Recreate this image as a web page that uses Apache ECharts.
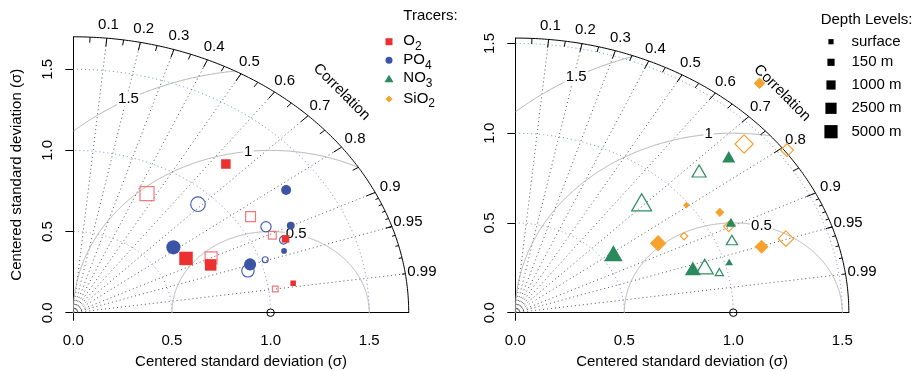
<!DOCTYPE html>
<html><head><meta charset="utf-8">
<script src="https://cdn.jsdelivr.net/npm/echarts@6/dist/echarts.min.js"></script>
<style>html,body{margin:0;padding:0;background:#fff}#c{width:914px;height:371px}</style>
</head><body><div id="c"></div>
<script>
const FONT = '"Liberation Sans", Arial, Helvetica, sans-serif';

// ---------- data ----------
const depthLevels = ['surface', '150 m', '1000 m', '2500 m', '5000 m'];
const tracerNames = ['O2', 'PO4', 'NO3', 'SiO2'];
const corrTicks = [0.1, 0.2, 0.3, 0.4, 0.5, 0.6, 0.7, 0.8, 0.9, 0.95, 0.99];
const sdTicks = [0, 0.5, 1.0, 1.5];
const rmsLevels = [0.5, 1, 1.5];
const refSd = 1;
const maxSdLeft = 1.7;
const maxSdRight = 1.53;

// values per depth: surface, 150 m, 1000 m, 2500 m, 5000 m  (std. dev., correlation)
const sdO2Filled   = [1.129, 1.168, 1.199, 0.756, 0.662];
const corO2Filled  = [0.987, 0.921, 0.645, 0.921, 0.863];
const sdO2Open     = [1.034, 1.116, 1.076, 0.776, 0.823];
const corO2Open    = [0.990, 0.904, 0.835, 0.900, 0.454];
const sdPO4Filled  = [1.134, 1.226, 1.317, 0.944, 0.648];
const corPO4Filled = [0.942, 0.899, 0.819, 0.949, 0.783];
const sdPO4Open    = [1.026, 1.156, 1.111, 0.922, 0.920];
const corPO4Open   = [0.948, 0.922, 0.879, 0.960, 0.687];
const sdNO3Filled  = [1.021, 1.110, 1.309, 0.851, 0.559];
const corNO3Filled = [0.961, 0.891, 0.748, 0.957, 0.805];
const sdNO3Open    = [0.963, 1.073, 1.155, 0.906, 0.845];
const corNO3Open   = [0.972, 0.926, 0.730, 0.959, 0.686];
const sdSiO2Filled  = [0.987, 1.092, 1.700, 1.188, 0.761];
const corSiO2Filled = [0.795, 0.859, 0.659, 0.951, 0.861];
const sdSiO2Open    = [0.884, 1.090, 1.541, 1.308, 1.409];
const corSiO2Open   = [0.876, 0.898, 0.809, 0.949, 0.745];

// ---------- styles ----------
const depthSize = [5.5, 7.5, 9.5, 11.5, 13.5];
const tracerDefs = [
  {name: 'O2',   grid: 0, symbol: 'rect',     color: '#EC2F2F', open: '#F27A7A', fF: 1.0,  fO: 1.04, sdF: sdO2Filled,   corF: corO2Filled,   sdO: sdO2Open,   corO: corO2Open},
  {name: 'PO4',  grid: 0, symbol: 'circle',   color: '#3B54A5', open: '#4660B0', fF: 1.05, fO: 1.08, sdF: sdPO4Filled,  corF: corPO4Filled,  sdO: sdPO4Open,  corO: corPO4Open},
  {name: 'NO3',  grid: 1, symbol: 'triangle', color: '#2A8A5C', open: '#2E8F60', fF: 1.38, fO: 1.48, sdF: sdNO3Filled,  corF: corNO3Filled,  sdO: sdNO3Open,  corO: corNO3Open},
  {name: 'SiO2', grid: 1, symbol: 'diamond',  color: '#F8A22E', open: '#F5A033', fF: 1.22, fO: 1.35, sdF: sdSiO2Filled, corF: corSiO2Filled, sdO: sdSiO2Open, corO: corSiO2Open}
];

const toXY = (sd, c) => [sd * c, sd * Math.sqrt(Math.max(0, 1 - c * c))];
const deg = Math.PI / 180;

function polySeries(gi, lines, style, z) {
  return {
    type: 'custom', coordinateSystem: 'cartesian2d', xAxisIndex: gi, yAxisIndex: gi,
    silent: true, z: z, clip: false,
    data: lines.map(() => [0, 0]),
    renderItem: (params, api) => ({
      type: 'polyline',
      shape: {points: lines[params.dataIndex].map(p => api.coord(p))},
      style: Object.assign({fill: null, lineWidth: 1}, style)
    })
  };
}
function textSeries(gi, items, z) {
  return {
    type: 'custom', coordinateSystem: 'cartesian2d', xAxisIndex: gi, yAxisIndex: gi,
    silent: true, z: z, clip: false,
    data: items.map(() => [0, 0]),
    renderItem: (params, api) => {
      const it = items[params.dataIndex];
      const p = api.coord(it.pos);
      return {
        type: 'text', x: p[0], y: p[1], rotation: it.rot || 0,
        style: Object.assign({text: it.text, fill: '#000', font: '15px ' + FONT, align: 'center', verticalAlign: 'middle'}, it.style || {})
      };
    }
  };
}

function panelSeries(gi, maxSd) {
  const out = [];
  // outer arc
  const outer = [];
  for (let a = 0; a <= 90.001; a += 0.5) outer.push([maxSd * Math.cos(a * deg), maxSd * Math.sin(a * deg)]);
  out.push(polySeries(gi, [outer], {stroke: '#000', lineWidth: 1}, 2));
  // std-dev arcs (blue dotted)
  const sdArcs = sdTicks.filter(r => r > 0 && r < maxSd).map(r => {
    const pts = [];
    for (let a = 0; a <= 90.001; a += 0.5) pts.push([r * Math.cos(a * deg), r * Math.sin(a * deg)]);
    return pts;
  });
  out.push(polySeries(gi, sdArcs, {stroke: '#7D8ED6', lineDash: [1, 3]}, 1));
  // correlation rays
  const rays = corrTicks.map(c => [[0, 0], toXY(maxSd, c)]);
  out.push(polySeries(gi, rays, {stroke: '#555', lineDash: [1, 3]}, 1));
  // rms arcs (grey) around reference
  const rmsArcs = rmsLevels.map(r => {
    const pts = [];
    for (let a = 0; a <= 180.001; a += 0.25) {
      const x = refSd + r * Math.cos(a * deg), y = r * Math.sin(a * deg);
      if (x >= -1e-9 && x * x + y * y <= maxSd * maxSd + 1e-9) pts.push([x, y]);
    }
    return pts;
  });
  out.push(polySeries(gi, rmsArcs, {stroke: '#B3B3B3', lineWidth: 1}, 1));
  // ticks on the outer arc
  const ticks = [];
  for (let i = 1; i <= 9; i++) { const c = i / 10; ticks.push([toXY(maxSd, c), toXY(maxSd * 0.97, c)]); }
  for (let i = 0; i < 10; i++) { const c = 0.05 + i / 10; ticks.push([toXY(maxSd, c), toXY(maxSd * 0.98, c)]); }
  for (let i = 1; i <= 9; i++) { const c = 0.9 + i / 100; ticks.push([toXY(maxSd, c), toXY(maxSd * 0.99, c)]); }
  out.push(polySeries(gi, ticks, {stroke: '#000', lineWidth: 1}, 2));
  // texts
  const texts = corrTicks.map(c => ({pos: toXY(maxSd * 1.05, c), text: String(c)}));
  texts.push({pos: [maxSd * 0.8, maxSd * 0.8], text: 'Correlation', rot: -Math.PI / 4});
  const rmsAngles = [75, 96.5, 118.7];
  rmsLevels.forEach((r, i) => texts.push({
    pos: [refSd + r * Math.cos(rmsAngles[i] * deg), r * Math.sin(rmsAngles[i] * deg)],
    text: String(r), style: {backgroundColor: '#fff', padding: [0, 1]}
  }));
  out.push(textSeries(gi, texts, 3));
  // reference point
  out.push({type: 'scatter', xAxisIndex: gi, yAxisIndex: gi, z: 4, clip: false, silent: true,
    symbol: 'circle', symbolSize: 7.5, data: [[refSd, 0]],
    itemStyle: {color: 'rgba(255,255,255,0)', borderColor: '#000', borderWidth: 1, opacity: 1}});
  return out;
}

function tracerSeries(def) {
  const mk = (sds, cors, filled) => {
    const f = filled ? def.fF : def.fO;
    return {
      type: 'scatter', name: def.name + (filled ? '' : ' (open)'), xAxisIndex: def.grid, yAxisIndex: def.grid,
      z: filled ? 6 : 5, clip: false, symbol: def.symbol, silent: true,
      data: sds.map((s, i) => {
        const w = depthSize[i] * f;
        return {value: toXY(s, cors[i]), symbolSize: def.symbol === 'triangle' ? [w, w * 0.86] : w};
      }),
      itemStyle: filled ? {color: def.color, opacity: 1}
                        : {color: 'rgba(255,255,255,0)', borderColor: def.open, borderWidth: 1.2, opacity: 1}
    };
  };
  return [mk(def.sdO, def.corO, false), mk(def.sdF, def.corF, true)];
}

function axisCfg(gi, maxSd, isY) {
  const cfg = {
    type: 'value', gridIndex: gi, min: 0, max: maxSd,
    axisLine: {show: true, onZero: false, lineStyle: {color: '#000', width: 1}},
    axisTick: {show: true, inside: false, length: 8, lineStyle: {color: '#000'}, customValues: isY ? sdTicks : [0]},
    axisLabel: {show: true, customValues: sdTicks, formatter: v => v.toFixed(1), color: '#000',
      fontSize: 15, fontFamily: FONT, margin: isY ? 18 : 21, rotate: isY ? 90 : 0},
    splitLine: {show: false}
  };
  if (!isY || gi === 0) {
    cfg.name = 'Centered standard deviation (σ)';
    cfg.nameLocation = 'middle';
    cfg.nameGap = isY ? 49 : 42;
    cfg.nameTextStyle = {color: '#000', fontSize: 15, fontFamily: FONT};
  }
  return cfg;
}

// ---------- legends (graphic) ----------
const rich = {
  n: {fontSize: 15, fontFamily: FONT, lineHeight: 17, verticalAlign: 'top', color: '#000'},
  s: {fontSize: 12, fontFamily: FONT, lineHeight: 12, padding: [7, 0, 0, 0], verticalAlign: 'top', color: '#000'}
};
const tracerLabels = ['{n|O}{s|2}', '{n|PO}{s|4}', '{n|NO}{s|3}', '{n|SiO}{s|2}'];
const graphic = [];
graphic.push({type: 'text', x: 403.3, y: 15.7, style: {text: 'Tracers:', fill: '#000', font: '15px ' + FONT, align: 'left', verticalAlign: 'middle'}});
const legY = [41.7, 60.3, 78.7, 99];
graphic.push({type: 'rect', shape: {x: 389 - 3.5, y: legY[0] - 3.5, width: 7, height: 7}, style: {fill: tracerDefs[0].color}});
graphic.push({type: 'circle', shape: {cx: 389, cy: legY[1], r: 3.5}, style: {fill: tracerDefs[1].color}});
graphic.push({type: 'polygon', shape: {points: [[389, legY[2] - 4], [393.5, legY[2] + 3.5], [384.5, legY[2] + 3.5]]}, style: {fill: tracerDefs[2].color}});
graphic.push({type: 'polygon', shape: {points: [[389, legY[3] - 3.5], [392.5, legY[3]], [389, legY[3] + 3.5], [385.5, legY[3]]]}, style: {fill: tracerDefs[3].color}});
tracerLabels.forEach((t, i) => graphic.push({type: 'text', x: 403.3, y: legY[i] + 0.5,
  style: {text: t, rich: rich, align: 'left', verticalAlign: 'middle'}}));

graphic.push({type: 'text', x: 820.7, y: 20, style: {text: 'Depth Levels:', fill: '#000', font: '15px ' + FONT, align: 'left', verticalAlign: 'middle'}});
const depY = [41.7, 62.3, 85, 108.3, 131.7];
depthLevels.forEach((d, i) => {
  const s = depthSize[i] - 0.3;
  graphic.push({type: 'rect', shape: {x: 831 - s / 2, y: depY[i] - s / 2, width: s, height: s}, style: {fill: '#000'}});
  graphic.push({type: 'text', x: 851.5, y: depY[i], style: {text: d, fill: '#000', font: '15px ' + FONT, align: 'left', verticalAlign: 'middle'}});
});

// ---------- chart ----------
const chart = echarts.init(document.getElementById('c'), null, {renderer: 'canvas'});
let series = [];
series = series.concat(panelSeries(0, maxSdLeft), panelSeries(1, maxSdRight));
tracerDefs.forEach(d => { series = series.concat(tracerSeries(d)); });

chart.setOption({
  animation: false,
  backgroundColor: '#fff',
  textStyle: {fontFamily: FONT},
  grid: [
    {left: 73.3, top: 36.8, width: maxSdLeft * 197.3, height: maxSdLeft * 162.3, outerBoundsMode: 'none', containLabel: false},
    {left: 515.3, top: 312.7 - maxSdRight * 179.5, width: maxSdRight * 218, height: maxSdRight * 179.5, outerBoundsMode: 'none', containLabel: false}
  ],
  xAxis: [axisCfg(0, maxSdLeft, false), axisCfg(1, maxSdRight, false)],
  yAxis: [axisCfg(0, maxSdLeft, true), axisCfg(1, maxSdRight, true)],
  series: series,
  graphic: graphic
});
</script>
</body></html>
